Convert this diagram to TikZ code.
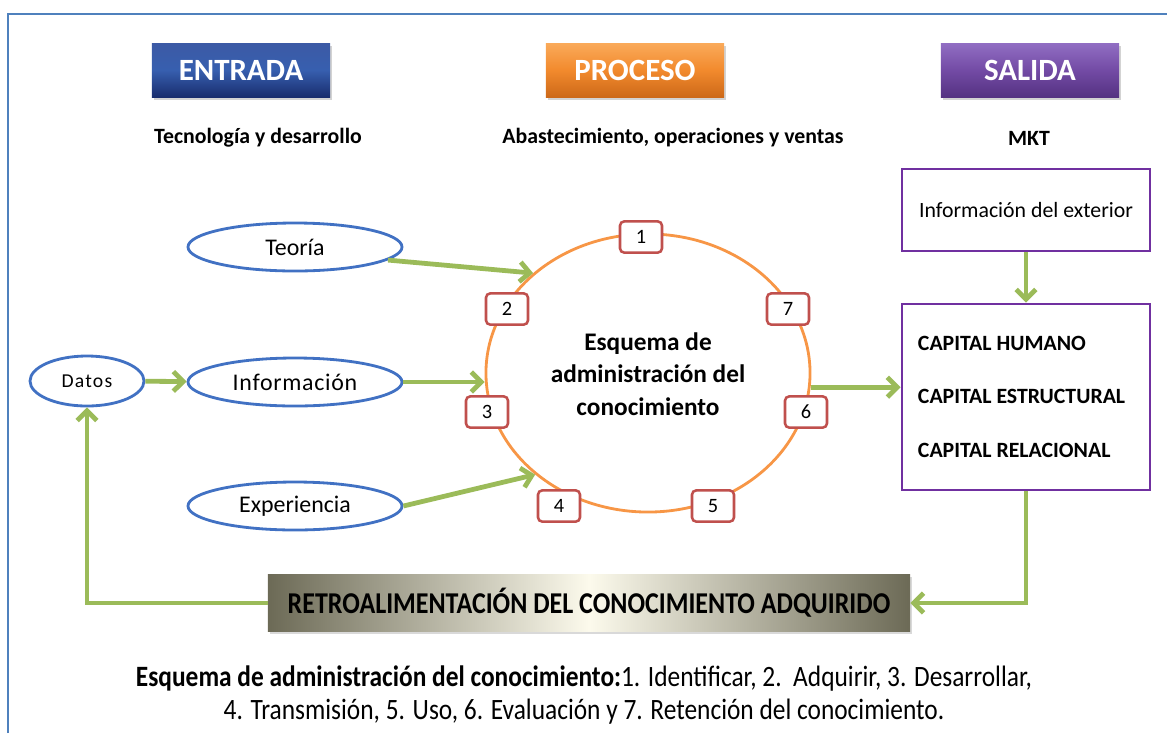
\documentclass[tikz,border=0pt]{standalone}
\usepackage{fontspec}
\setmainfont{Carlito}
\newfontfamily\angosta[FakeStretch=0.86]{Carlito}
\usepackage{tikz}
\usetikzlibrary{arrows.meta, positioning, calc, shapes.geometric, shadows}
\definecolor{azulmarco}{RGB}{79,129,189}
\definecolor{azulelipse}{RGB}{65,113,195}
\definecolor{verdeflecha}{RGB}{155,187,89}
\definecolor{naranja}{RGB}{247,150,70}
\definecolor{rojito}{RGB}{192,80,77}
\definecolor{morado}{RGB}{112,48,160}
\definecolor{azulA}{RGB}{60,90,165}
\definecolor{azulB}{RGB}{55,95,175}
\definecolor{azulC}{RGB}{25,45,110}
\definecolor{naranjaA}{RGB}{250,170,90}
\definecolor{naranjaB}{RGB}{242,138,45}
\definecolor{naranjaC}{RGB}{205,105,25}
\definecolor{moradoA}{RGB}{145,110,195}
\definecolor{moradoB}{RGB}{115,75,165}
\definecolor{moradoC}{RGB}{85,50,130}
\definecolor{grisolivo}{RGB}{108,106,86}
\definecolor{crema}{RGB}{252,250,236}
\tikzset{>={Straight Barb[length=7pt,width=14pt]}}

\begin{document}
\begin{tikzpicture}[x=0.025cm, y=-0.025cm,
    titulo/.style={minimum width=4.45cm, minimum height=1.35cm, inner sep=0pt, text=white,
      font=\fontsize{22}{26}\selectfont\bfseries,
      drop shadow={opacity=0.35, shadow xshift=1.5pt, shadow yshift=-2pt}},
    subtitulo/.style={font=\fontsize{15.5}{18}\selectfont\bfseries},
    ovalo/.style={ellipse, draw=azulelipse, line width=2pt, minimum width=5.35cm,
      minimum height=1.2cm, inner sep=0pt, font=\fontsize{17}{20}\selectfont},
    paso/.style={draw=rojito, line width=1.8pt, rounded corners=3pt, fill=white,
      minimum width=1.05cm, minimum height=0.78cm, inner sep=0pt,
      font=\fontsize{14.5}{16}\selectfont},
    caja/.style={draw=morado, line width=2pt, minimum width=6.2cm, inner sep=0pt},
    flecha/.style={->, verdeflecha, line width=3.4pt}]
  \useasboundingbox (0,0) rectangle (1167,733);
  \draw[azulmarco, line width=2pt] (8,733) -- (8,14) -- (1167,14);

  % cabeceras
  \node[titulo, top color=azulA, bottom color=azulC, middle color=azulB] (entrada) at (241,70) {ENTRADA};
  \node[titulo, top color=naranjaA, bottom color=naranjaC, middle color=naranjaB] (proceso) at (635,70) {PROCESO};
  \node[titulo, top color=moradoA, bottom color=moradoC, middle color=moradoB] (salida) at (1030,70) {SALIDA};
  \node[subtitulo] (tecno) at (258,138) {Tecnología y desarrollo};
  \node[subtitulo] (abast) at (673,138) {Abastecimiento, operaciones y ventas};
  \node[subtitulo] (mkt) at (1029,138) {MKT};

  % entradas
  \node[ovalo] (teoria) at (295,247) {Teoría};
  \node[ovalo] (info) at (295,382) {\addfontfeature{LetterSpace=3}Información};
  \node[ovalo] (exper) at (295,506) {Experiencia};
  \node[ovalo, minimum width=2.85cm, minimum height=1.25cm, font=\fontsize{14}{16}\selectfont] (datos) at (87,381) {\addfontfeature{LetterSpace=6}Datos};

  % proceso
  \node[ellipse, draw=naranja, line width=2pt, minimum width=8.1cm, minimum height=6.95cm,
    align=center, font=\fontsize{18}{23}\selectfont\bfseries] (esq) at (648,373)
    {\\[-9pt]Esquema de\\administración del\\conocimiento};
  \node[paso] (p1) at (641,237) {1};
  \node[paso] (p2) at (507,309) {2};
  \node[paso] (p3) at (487,412) {3};
  \node[paso] (p4) at (559,506) {4};
  \node[paso] (p5) at (713,506) {5};
  \node[paso] (p6) at (806,412) {6};
  \node[paso] (p7) at (788,309) {7};

  % salidas
  \node[caja, minimum height=2.05cm, font=\fontsize{15.5}{18}\selectfont] (exterior) at (1026,210) {Información del exterior};
  \node[caja, minimum height=4.65cm] (capital) at (1026,397) {};
  \node[anchor=west, font=\fontsize{15.5}{18}\selectfont\bfseries] (humano) at (913,343) {CAPITAL HUMANO};
  \node[anchor=west, font=\fontsize{15.5}{18}\selectfont\bfseries] (estruc) at (913,396) {CAPITAL ESTRUCTURAL};
  \node[anchor=west, font=\fontsize{15.5}{18}\selectfont\bfseries] (relac) at (913,450) {CAPITAL RELACIONAL};

  \node[left color=grisolivo, right color=grisolivo, middle color=crema,
    minimum width=16.05cm, minimum height=1.43cm, inner sep=0pt,
    font=\angosta\fontsize{21.5}{24}\selectfont\bfseries,
    drop shadow={opacity=0.3, shadow xshift=1.5pt, shadow yshift=-2pt}] (retro) at (589,603)
    {RETROALIMENTACIÓN DEL CONOCIMIENTO ADQUIRIDO};

  \draw[flecha] (teoria.-8) -- (esq.139);
  \draw[flecha] (info.east) -- (info.east -| esq.west);
  \draw[flecha] (exper.east) -- (esq.222);
  \draw[flecha] (datos) -- (info);
  \draw[flecha] (esq.-5) -- (esq.-5 -| capital.west);
  \draw[flecha] (exterior) -- (capital);
  \draw[flecha] (capital.south) |- (retro.east);
  \draw[flecha] (retro.west) -| (datos.south);

  \node[align=center, font=\angosta\fontsize{21}{24}\selectfont] (nota) at (584,695)
    {{\bfseries Esquema de administración del conocimiento:}1. Identificar, 2.\ \ Adquirir, 3. Desarrollar,\\
     4. Transmisión, 5. Uso, 6. Evaluación y 7. Retención del conocimiento.};
\end{tikzpicture}
\end{document}
